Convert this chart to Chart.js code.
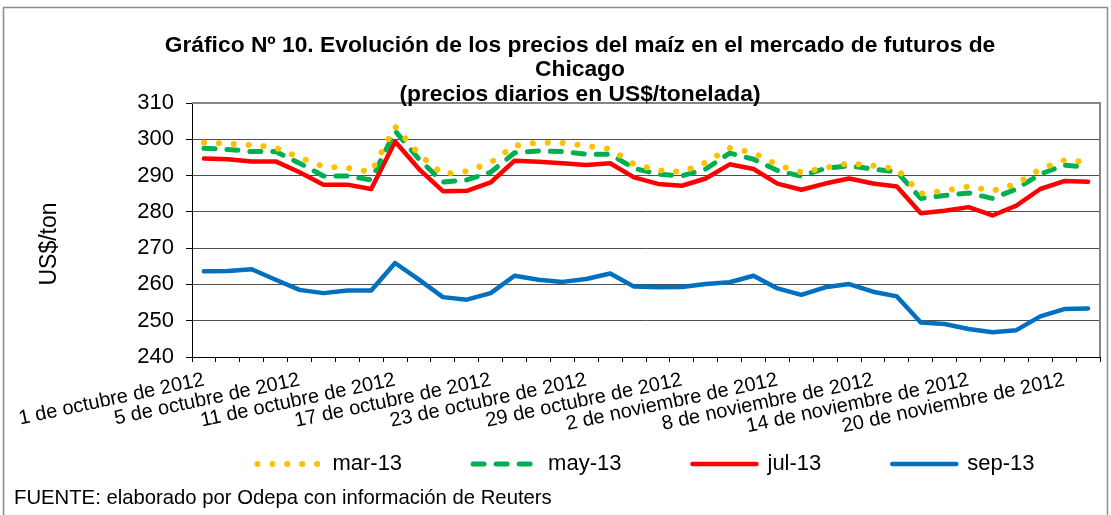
<!DOCTYPE html>
<html>
<head>
<meta charset="utf-8">
<title>Gráfico Nº 10</title>
<script src="https://cdn.jsdelivr.net/npm/chart.js@4/dist/chart.umd.min.js"></script>
<style>
	body { margin: 0; background: #fff; }
	#wrap { position: relative; width: 1111px; height: 515px; }
</style>
</head>
<body>
<div id="wrap"><canvas id="grafico"></canvas></div>
<script>
// fechas de cotizacion (dias habiles)
var fechas = [
	'1 de octubre de 2012', '2 de octubre de 2012', '3 de octubre de 2012', '4 de octubre de 2012',
	'5 de octubre de 2012', '8 de octubre de 2012', '9 de octubre de 2012', '10 de octubre de 2012',
	'11 de octubre de 2012', '12 de octubre de 2012', '15 de octubre de 2012', '16 de octubre de 2012',
	'17 de octubre de 2012', '18 de octubre de 2012', '19 de octubre de 2012', '22 de octubre de 2012',
	'23 de octubre de 2012', '24 de octubre de 2012', '25 de octubre de 2012', '26 de octubre de 2012',
	'29 de octubre de 2012', '30 de octubre de 2012', '31 de octubre de 2012', '1 de noviembre de 2012',
	'2 de noviembre de 2012', '5 de noviembre de 2012', '6 de noviembre de 2012', '7 de noviembre de 2012',
	'8 de noviembre de 2012', '9 de noviembre de 2012', '12 de noviembre de 2012', '13 de noviembre de 2012',
	'14 de noviembre de 2012', '15 de noviembre de 2012', '16 de noviembre de 2012', '19 de noviembre de 2012',
	'20 de noviembre de 2012', '21 de noviembre de 2012'
];

var mar13 = [299.1, 298.8, 298.4, 297.7, 295.0, 292.5, 292.1, 291.0, 303.5, 295.9,
	290.4, 291.2, 293.6, 298.2, 299.1, 299.0, 298.2, 297.3, 293.1, 291.5,
	291.0, 293.6, 297.6, 296.3, 292.9, 290.9, 292.1, 293.4, 292.7, 291.8,
	285.0, 285.8, 287.0, 285.8, 287.7, 291.8, 294.2, 293.8];

var may13 = [297.5, 297.2, 296.6, 296.6, 293.4, 289.9, 289.9, 288.8, 302.3, 294.5,
	288.2, 288.8, 290.9, 296.3, 296.8, 296.6, 295.9, 295.9, 292.0, 290.4,
	289.9, 291.8, 296.2, 294.5, 291.4, 289.8, 292.0, 292.7, 291.8, 291.0,
	283.7, 284.5, 285.2, 283.7, 286.3, 290.4, 292.9, 292.2];

var jul13 = [294.7, 294.5, 293.9, 293.9, 290.9, 287.5, 287.5, 286.3, 299.4, 291.8,
	285.7, 285.8, 288.1, 294.1, 293.8, 293.4, 292.9, 293.4, 289.5, 287.7,
	287.2, 289.2, 293.1, 291.8, 287.8, 286.1, 287.8, 289.2, 287.8, 287.0,
	279.6, 280.3, 281.3, 279.0, 281.7, 286.3, 288.5, 288.3];

var sep13 = [263.6, 263.7, 264.2, 261.3, 258.5, 257.6, 258.3, 258.3, 265.9, 261.3,
	256.5, 255.8, 257.6, 262.4, 261.3, 260.7, 261.5, 263.0, 259.4, 259.2,
	259.3, 260.1, 260.6, 262.4, 258.9, 257.1, 259.2, 260.1, 258.0, 256.7,
	249.5, 249.1, 247.7, 246.8, 247.4, 251.2, 253.2, 253.4];

var titulo = [
	'Gráfico Nº 10. Evolución de los precios del maíz en el mercado de futuros de',
	'Chicago',
	'(precios diarios en US$/tonelada)'
];
var ejeY = 'US$/ton';
var fuente = 'FUENTE: elaborado por Odepa con información de Reuters';

var FONT = "'Liberation Sans', Arial, sans-serif";
Chart.defaults.color = '#000';
Chart.defaults.font.family = FONT;

// textos y marcos que Chart.js no pone donde los queremos
var decorado = {
	id: 'decorado',
	beforeDatasetsDraw: function (chart) {
		var ctx = chart.ctx, a = chart.chartArea;
		ctx.save();
		ctx.strokeStyle = '#868686';
		ctx.lineWidth = 2;
		ctx.beginPath();
		ctx.moveTo(a.left, a.top);
		ctx.lineTo(a.right, a.top);
		ctx.lineTo(a.right, a.bottom);
		ctx.stroke();
		ctx.restore();
	},
	afterDraw: function (chart) {
		var ctx = chart.ctx;
		ctx.save();
		ctx.strokeStyle = '#8c8c8c';
		ctx.lineWidth = 1.5;
		ctx.strokeRect(3.5, 7.5, 1104, 530);

		ctx.fillStyle = '#000';
		ctx.textAlign = 'center';
		ctx.textBaseline = 'middle';
		ctx.font = 'bold 22.8px ' + FONT;
		ctx.fillText(titulo[0], 580, 46);
		ctx.fillText(titulo[1], 580, 70);
		ctx.fillText(titulo[2], 580, 95);

		ctx.font = '20.3px ' + FONT;
		ctx.textAlign = 'left';
		ctx.fillText(fuente, 14, 498);

		ctx.font = '23px ' + FONT;
		ctx.translate(50, 244);
		ctx.rotate(-Math.PI / 2);
		ctx.textAlign = 'center';
		ctx.fillText(ejeY, 0, 0);
		ctx.restore();
	}
};

function serie(label, data, color, width, dash, cap) {
	return {
		label: label,
		data: data,
		borderColor: color,
		backgroundColor: color,
		borderWidth: width,
		borderDash: dash,
		borderCapStyle: cap,
		borderJoinStyle: 'round',
		pointRadius: 0,
		tension: 0,
		fill: false
	};
}

// la leyenda toma el trazo de la serie (no el del punto)
function leyenda(chart) {
	var items = Chart.defaults.plugins.legend.labels.generateLabels(chart);
	items.forEach(function (it, i) {
		var ds = chart.data.datasets[it.datasetIndex];
		it.lineDash = ds.borderDash;
		it.lineCap = ds.borderCapStyle;
		it.lineWidth = ds.borderWidth;
		it.strokeStyle = ds.borderColor;
		if (i < items.length - 1) it.text += '         ';
	});
	return items;
}

new Chart(document.getElementById('grafico'), {
	type: 'line',
	data: {
		labels: fechas,
		datasets: [
			serie('mar-13', mar13, '#FFC000', 6, [0.1, 14.8], 'round'),
			serie('may-13', may13, '#00B050', 5, [11, 12], 'round'),
			serie('jul-13', jul13, '#FF0000', 4.5, [], 'round'),
			serie('sep-13', sep13, '#0070C0', 4.5, [], 'round')
		]
	},
	options: {
		responsive: true,
		maintainAspectRatio: false,
		animation: false,
		events: [],
		layout: { padding: { top: 103, right: 11, bottom: 30, left: 0 } },
		plugins: {
			title: { display: false },
			tooltip: { enabled: false },
			legend: {
				position: 'bottom',
				fullSize: false,
				labels: {
					usePointStyle: true,
					pointStyle: 'line',
					pointStyleWidth: 64,
					padding: 16,
					font: { size: 22 },
					color: '#000',
					generateLabels: leyenda
				}
			}
		},
		scales: {
			x: {
				offset: true,
				grid: {
					offset: true,
					drawOnChartArea: false,
					drawTicks: true,
					tickLength: 5,
					tickColor: '#000'
				},
				border: { color: '#000', width: 1 },
				ticks: {
					autoSkip: false,
					minRotation: 12,
					maxRotation: 12,
					padding: 6,
					font: { size: 20 },
					callback: function (v, i) { return i % 4 === 0 ? fechas[i] : ''; }
				},
				afterFit: function (s) { s.height = 80; }
			},
			y: {
				min: 240,
				max: 310,
				ticks: { stepSize: 10, padding: 12, font: { size: 22 } },
				grid: { color: '#4d4d4d', lineWidth: 1, tickLength: 6, tickColor: '#000' },
				border: { color: '#000', width: 1 },
				afterFit: function (s) { s.width = 192; }
			}
		}
	},
	plugins: [decorado]
});
</script>
</body>
</html>
